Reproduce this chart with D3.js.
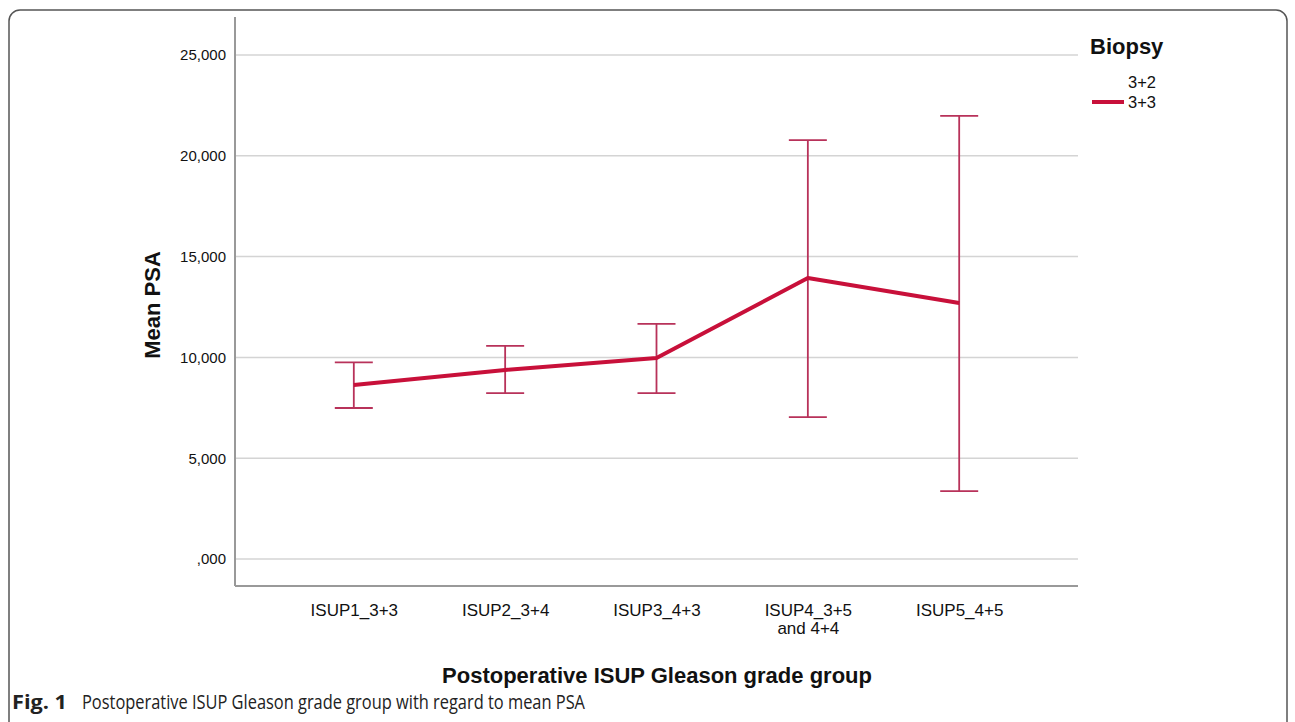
<!DOCTYPE html>
<html>
<head>
<meta charset="utf-8">
<script src="https://cdn.jsdelivr.net/npm/d3@7"></script>
<style>
  body { margin: 0; background: #fff; }
  svg { display: block; font-family: "Liberation Sans", Arial, sans-serif; }
</style>
</head>
<body>
<svg width="1295" height="722"></svg>
<script>
// data
var groups = ["ISUP1_3+3", "ISUP2_3+4", "ISUP3_4+3", "ISUP4_3+5|and 4+4", "ISUP5_4+5"];
var meanPSA = [8630, 9380, 9970, 13940, 12700];
var upperCI = [9750, 10570, 11660, 20780, 21980];
var lowerCI = [7490, 8230, 8230, 7040, 3370];
var yTicks = [0, 5000, 10000, 15000, 20000, 25000];
var legendItems = ["3+2", "3+3"];

var svg = d3.select("svg"),
    margin = { top: 55, left: 235, right: 217, bottom: 136 },
    width = 1295 - margin.left - margin.right,
    plotBottom = 586 - margin.top,
    height = 559 - margin.top;

var lineColor = "#c8103a",
    barColor = "#b8325a";

// frame around the figure
svg.append("rect")
    .attr("x", 9).attr("y", 10)
    .attr("width", 1278).attr("height", 740)
    .attr("rx", 11)
    .attr("fill", "none")
    .attr("stroke", "#555")
    .attr("stroke-width", 1.5);

var x = d3.scalePoint().domain(groups).range([0, width]).padding(0.785),
    y = d3.scaleLinear().domain([0, 25000]).range([height, 0]);

var g = svg.append("g")
    .attr("transform", "translate(" + margin.left + "," + margin.top + ")");

// grid lines
g.selectAll(".grid")
    .data(yTicks)
    .enter().append("line")
    .attr("x1", 0).attr("x2", width)
    .attr("y1", function (d) { return y(d); })
    .attr("y2", function (d) { return y(d); })
    .attr("stroke", "#d4d4d4")
    .attr("stroke-width", 1.5);

// y axis
var yAxis = g.append("g")
    .call(d3.axisLeft(y).tickValues(yTicks).tickSize(0).tickPadding(9)
        .tickFormat(function (d) { return d === 0 ? ",000" : d3.format(",")(d); }));
yAxis.select(".domain").remove();
yAxis.selectAll("text").attr("font-size", 15).attr("fill", "#111")
    .attr("font-family", "Liberation Sans, Arial, sans-serif");

// axis lines
g.append("line")
    .attr("x1", 0).attr("x2", 0).attr("y1", -38).attr("y2", plotBottom)
    .attr("stroke", "#999").attr("stroke-width", 2);
g.append("line")
    .attr("x1", 0).attr("x2", width).attr("y1", plotBottom).attr("y2", plotBottom)
    .attr("stroke", "#999").attr("stroke-width", 2);

// x axis labels
var xAxis = g.append("g")
    .attr("transform", "translate(0," + plotBottom + ")")
    .call(d3.axisBottom(x).tickSize(0).tickFormat(""));
xAxis.select(".domain").remove();
xAxis.selectAll(".tick text").remove();
xAxis.selectAll(".tick").append("text")
    .attr("text-anchor", "middle")
    .attr("font-size", 17)
    .attr("fill", "#111")
    .attr("font-family", "Liberation Sans, Arial, sans-serif")
    .each(function (d) {
        var parts = d.split("|");
        var t = d3.select(this);
        parts.forEach(function (p, i) {
            t.append("tspan").attr("x", 0).attr("y", 30 + i * 18).text(p);
        });
    });

// error bars
var idx = d3.range(groups.length);
var capW = 19;
g.selectAll(".err")
    .data(idx)
    .enter().append("path")
    .attr("fill", "none")
    .attr("stroke", barColor)
    .attr("stroke-width", 1.8)
    .attr("d", function (i) {
        var cx = x(groups[i]), yu = y(upperCI[i]), yl = y(lowerCI[i]);
        return "M" + (cx - capW) + "," + yu + "H" + (cx + capW) +
            "M" + cx + "," + yu + "V" + yl +
            "M" + (cx - capW) + "," + yl + "H" + (cx + capW);
    });

// mean line
var line = d3.line()
    .x(function (i) { return x(groups[i]); })
    .y(function (i) { return y(meanPSA[i]); });
g.append("path")
    .datum(idx)
    .attr("fill", "none")
    .attr("stroke", lineColor)
    .attr("stroke-width", 4)
    .attr("stroke-linejoin", "round")
    .attr("d", line);

// axis titles
svg.append("text")
    .attr("transform", "translate(160,305) rotate(-90)")
    .attr("text-anchor", "middle")
    .attr("font-size", 22)
    .attr("font-weight", "bold")
    .attr("fill", "#111")
    .text("Mean PSA");

svg.append("text")
    .attr("x", 657).attr("y", 683)
    .attr("text-anchor", "middle")
    .attr("font-size", 22)
    .attr("font-weight", "bold")
    .attr("fill", "#111")
    .text("Postoperative ISUP Gleason grade group");

// legend
svg.append("text")
    .attr("x", 1090).attr("y", 54)
    .attr("font-size", 22)
    .attr("font-weight", "bold")
    .attr("fill", "#111")
    .text("Biopsy");

var leg = svg.selectAll(".leg")
    .data(legendItems)
    .enter().append("g")
    .attr("transform", function (d, i) { return "translate(1128," + (88 + i * 20) + ")"; });
leg.append("text")
    .attr("font-size", 16.5)
    .attr("fill", "#111")
    .text(function (d) { return d; });
leg.filter(function (d, i) { return i === 1; }).append("line")
    .attr("x1", -36).attr("x2", -4).attr("y1", -6).attr("y2", -6)
    .attr("stroke", lineColor).attr("stroke-width", 4);

// caption
svg.append("text")
    .attr("x", 12).attr("y", 709)
    .attr("font-size", 20)
    .attr("font-weight", "bold")
    .attr("fill", "#222")
    .attr("font-family", "'Open Sans', 'Noto Sans', sans-serif")
    .attr("textLength", 55)
    .attr("lengthAdjust", "spacingAndGlyphs")
    .text("Fig. 1");
svg.append("text")
    .attr("x", 82).attr("y", 709)
    .attr("font-size", 20)
    .attr("fill", "#222")
    .attr("font-family", "'Open Sans', 'Noto Sans', sans-serif")
    .attr("textLength", 503)
    .attr("lengthAdjust", "spacingAndGlyphs")
    .text("Postoperative ISUP Gleason grade group with regard to mean PSA");
</script>
</body>
</html>
